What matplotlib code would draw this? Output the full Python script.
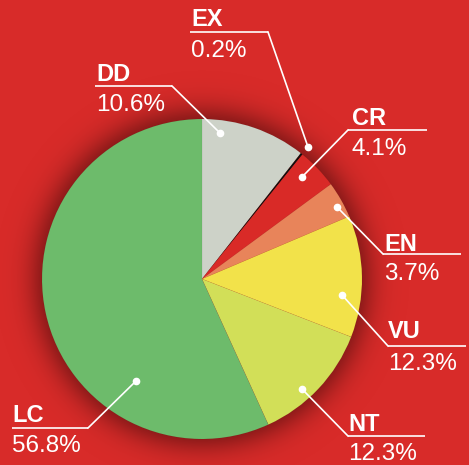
import numpy as np
import matplotlib
matplotlib.use("Agg")
import matplotlib.pyplot as plt

# ---- data ----
categories = ["DD", "EX", "CR", "EN", "VU", "NT", "LC"]
values = [10.6, 0.2, 4.1, 3.7, 12.3, 12.3, 56.8]
pct_labels = ["10.6%", "0.2%", "4.1%", "3.7%", "12.3%", "12.3%", "56.8%"]

# ---- styles ----
BG = "#d82b29"
colors = ["#cdd2c8", "#111111", "#d92a27", "#e8845a", "#f2e24a", "#d2df58", "#6dbb6b"]

W, H = 469, 465
CX, CY, R = 202, 279, 160

# label layout: (text_x, name_baseline, pct_baseline, underline_y, underline_x0, underline_x1, leader_start, dot)
layout = {
    "EX": (191, 26, 57, 32, 190, 268, (268, 32), (308, 147)),
    "DD": (96, 81, 111, 86, 95, 172, (172, 86), (220, 133)),
    "CR": (352, 125, 155, 130, 348, 427, (348, 130), (302, 177)),
    "EN": (384, 251, 280, 254, 383, 461, (383, 254), (337, 207)),
    "VU": (388, 338, 370, 346, 388, 466, (388, 346), (342, 295)),
    "NT": (348, 431, 460, 436, 348, 425, (348, 436), (302, 389)),
    "LC": (12, 422, 452, 428, 12, 88, (88, 428), (136, 381)),
}

fig = plt.figure(figsize=(W / 100, H / 100), dpi=100)
fig.patch.set_facecolor(BG)
ax = fig.add_axes([0, 0, 1, 1])
ax.set_facecolor(BG)

# drop shadow around the pie
yy, xx = np.mgrid[0:H, 0:W] + 0.5
d = np.sqrt((xx - CX) ** 2 + (yy - CY) ** 2)
t = np.clip(d - R + 2, 0, None)
alpha = 0.58 * np.exp(-(t / 17.0) ** 1.5)
alpha[d < R - 4] = 0
shadow = np.zeros((H, W, 4))
shadow[..., 0] = 0.35
shadow[..., 1] = 0.06
shadow[..., 2] = 0.06
shadow[..., 3] = alpha
ax.imshow(shadow, extent=(0, W, H, 0), zorder=1, interpolation="bilinear")

wedges, _ = ax.pie(values, colors=colors, startangle=270, counterclock=True,
                   center=(CX, CY), radius=R,
                   wedgeprops=dict(linewidth=0.3, edgecolor=(0, 0, 0, 0.08)))
for w in wedges:
    w.set_zorder(2)

ax.set_xlim(0, W)
ax.set_ylim(H, 0)
ax.set_aspect("auto")
ax.axis("off")

name_font = dict(family="Liberation Sans", fontweight="bold", fontsize=17, color="white")
pct_font = dict(family="Liberation Sans", fontsize=17.5, color="white")

for cat, pct in zip(categories, pct_labels):
    tx, nb, pb, uy, ux0, ux1, ls, dot = layout[cat]
    ax.text(tx, nb, cat, va="baseline", ha="left", zorder=5, **name_font)
    ax.text(tx, pb, pct, va="baseline", ha="left", zorder=5, **pct_font)
    ax.plot([ux0, ux1], [uy, uy], color="white", lw=1.2, zorder=5, solid_capstyle="butt")
    ax.plot([ls[0], dot[0]], [ls[1], dot[1]], color="white", lw=1.2, zorder=5)
    ax.plot([dot[0]], [dot[1]], "o", color="white", ms=4.5, zorder=6)

fig.savefig("out.png", dpi=100, facecolor=BG)
